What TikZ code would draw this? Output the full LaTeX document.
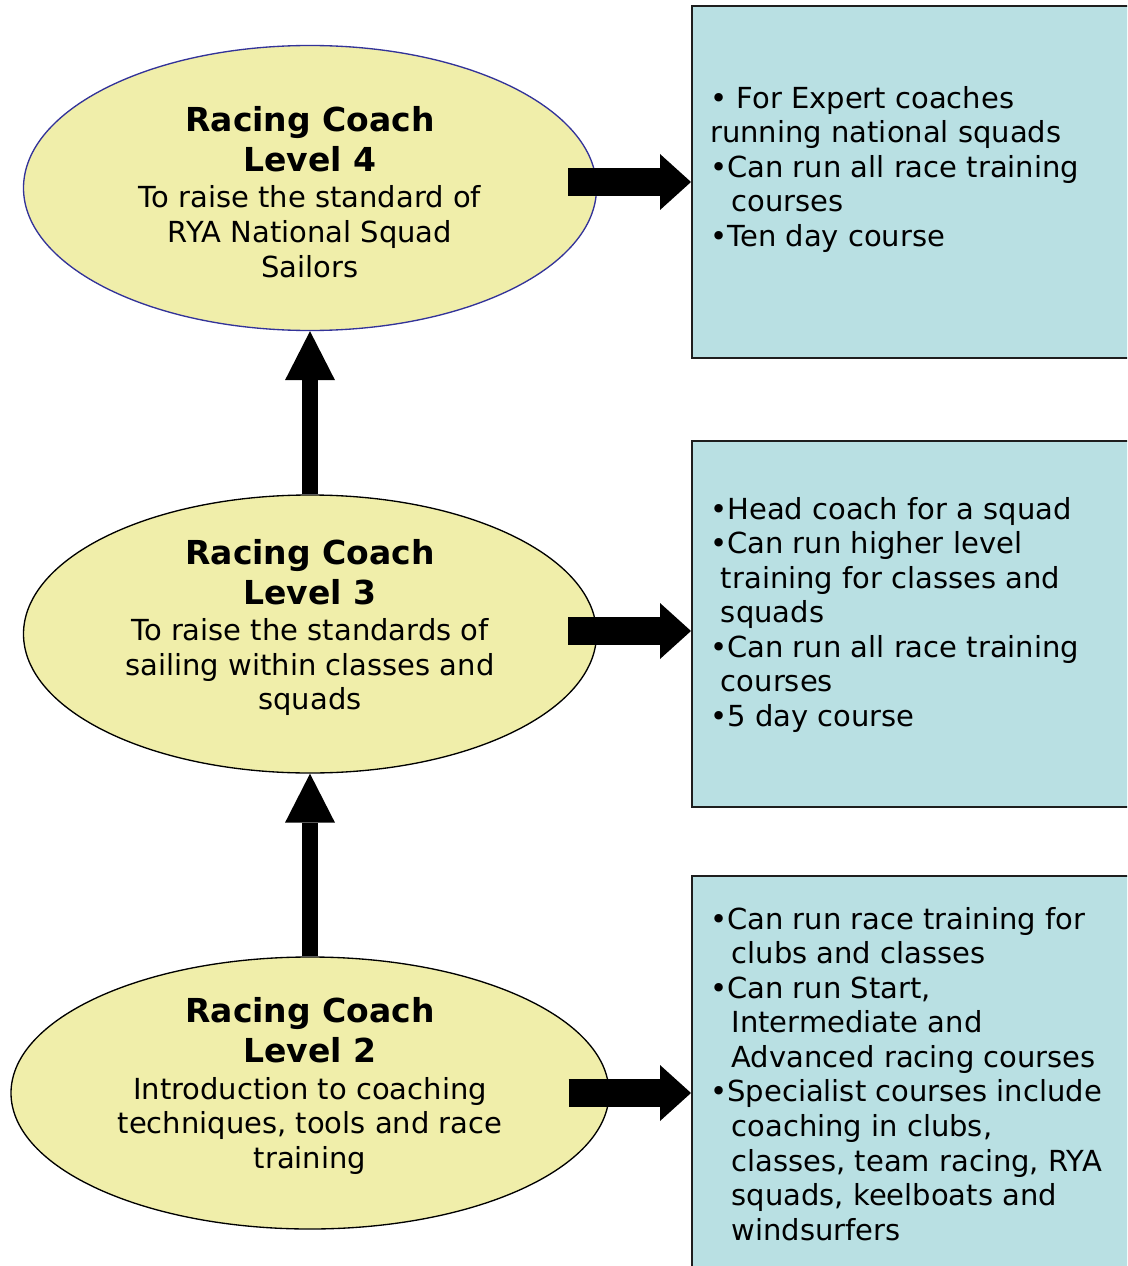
\documentclass[tikz,border=0pt]{standalone}
\usepackage{fontspec}
\setmainfont{DejaVu Sans}
\usetikzlibrary{shapes.geometric,arrows.meta,positioning}
\newcommand{\levelfont}{\fontsize{24.75pt}{30pt}\selectfont\bfseries}

\begin{document}
\begin{tikzpicture}[x=0.75pt,y=0.75pt,yscale=-1,xscale=1,
  level/.style={ellipse,draw=black,line width=1pt,fill={rgb,255:red,240;green,238;blue,170},inner sep=0pt},
  leveltext/.style={align=center,inner sep=0pt,font=\fontsize{21.75pt}{25.9pt}\selectfont},
  infobox/.style={rectangle,draw={rgb,255:red,30;green,30;blue,30},line width=1.5pt,fill={rgb,255:red,185;green,224;blue,227},inner sep=0pt},
  infotext/.style={align=left,anchor=north west,inner sep=0pt,font=\fontsize{21.75pt}{25.9pt}\selectfont},
  rarrow/.style={line width=21pt,-{Triangle[length=23.25pt,width=42pt,line width=0pt]}},
  uarrow/.style={line width=12pt,-{Triangle[length=36.75pt,width=37.5pt,line width=0pt]}}]
\useasboundingbox (0,0) rectangle (1127,1266);
\clip (0,0) rectangle (1127,1266);

%Shape: Ellipse [level 4]
\node[level,draw={rgb,255:red,51;green,51;blue,153},minimum width=429.75pt,minimum height=213.75pt] (e4) at (310,188) {};
%Shape: Ellipse [level 3]
\node[level,minimum width=429.75pt,minimum height=208.5pt] (e3) at (310,634) {};
%Shape: Ellipse [level 2]
\node[level,minimum width=448.5pt,minimum height=204pt] (e2) at (310,1093) {};

%Shape: Rectangle [level 4 box]
\node[infobox,minimum width=351pt,minimum height=264pt] (b4) at (926,182) {};
%Shape: Rectangle [level 3 box]
\node[infobox,minimum width=351pt,minimum height=274.5pt] (b3) at (926,624) {};
%Shape: Rectangle [level 2 box]
\node[infobox,minimum width=351pt,minimum height=325.5pt] (b2) at (926,1093) {};

% Text Node
\node[leveltext] (t4) at ([yshift=3pt]e4.center) {{\levelfont Racing Coach}\\[4pt]{\levelfont Level 4}\\[1.5pt]To raise the standard of\\RYA National Squad\\Sailors};
% Text Node
\node[leveltext] (t3) at ([yshift=-4.9pt]e3.center) {{\levelfont Racing Coach}\\[4pt]{\levelfont Level 3}\\[1.5pt]To raise the standards of\\sailing within classes and\\squads};
% Text Node
\node[leveltext] (t2) at ([yshift=-5.25pt]e2.center) {{\levelfont Racing Coach}\\[4pt]{\levelfont Level 2}\\[1.5pt]Introduction to coaching\\techniques, tools and race\\training};

% Text Node
\node[infotext] (d4) at ([shift={(19,81)}]b4.north west) {• For Expert coaches\\running national squads\\•Can run all race training\\\hspace*{16pt}courses\\•Ten day course};
% Text Node
\node[infotext] (d3) at ([shift={(19,57)}]b3.north west) {•Head coach for a squad\\•Can run higher level\\\hspace*{8pt}training for classes and\\\hspace*{8pt}squads\\•Can run all race training\\\hspace*{8pt}courses\\•5 day course};
% Text Node
\node[infotext] (d2) at ([shift={(19,32)}]b2.north west) {•Can run race training for\\\hspace*{16pt}clubs and classes\\•Can run Start,\\\hspace*{16pt}Intermediate and\\\hspace*{16pt}Advanced racing courses\\•Specialist courses include\\\hspace*{16pt}coaching in clubs,\\\hspace*{16pt}classes, team racing, RYA\\\hspace*{16pt}squads, keelboats and\\\hspace*{16pt}windsurfers};

%Right Arrow
\draw[rarrow] ([xshift=-21.75pt]b4.west -| e4.east) -- (b4.west);
\draw[rarrow] ([xshift=-21.75pt,yshift=5.25pt]b3.west -| e3.east) -- ([yshift=5.25pt]b3.west);
\draw[rarrow] ([xshift=-30.75pt]b2.west -| e2.east) -- (b2.west);
%Up Arrow
\draw[uarrow] (e3.north) -- (e4.south);
\draw[uarrow] (e2.north) -- (e3.south);

\end{tikzpicture}
\end{document}
